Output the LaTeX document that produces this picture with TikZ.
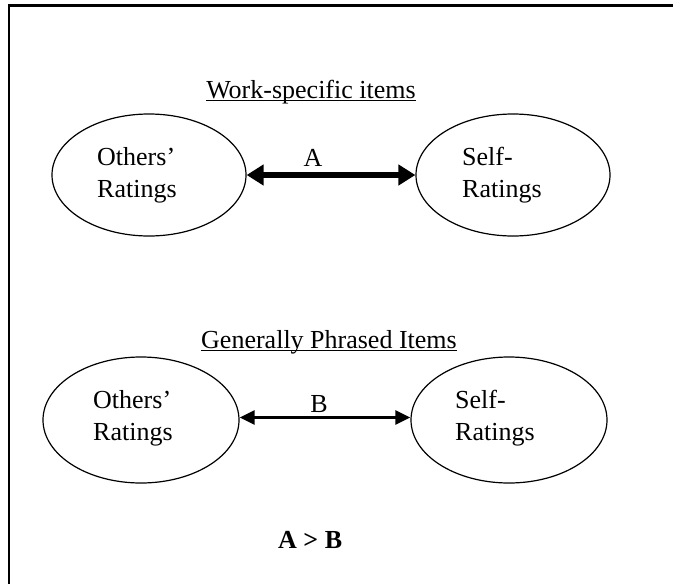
\documentclass[tikz,border=0pt]{standalone}
\usepackage{fontspec}
\setmainfont{Liberation Serif}
\usetikzlibrary{arrows.meta,shapes.geometric}

\tikzset{
  rating/.style={draw, ellipse, line width=1.2pt, minimum width=194pt, minimum height=122pt, inner sep=0pt},
  lbl/.style={inner sep=0pt, font=\fontsize{26}{32}\selectfont},
  blocktxt/.style={lbl, align=left, anchor=north west},
  heading/.style={lbl, anchor=base},
  strongarrow/.style={line width=6.5pt, {Triangle[length=17pt,width=20pt]}-{Triangle[length=17pt,width=20pt]}},
  weakarrow/.style={line width=2.8pt, {Triangle[length=15pt,width=14pt]}-{Triangle[length=15pt,width=14pt]}},
  underl/.style={line width=1.3pt}
}

\begin{document}
\begin{tikzpicture}[x=1pt, y=-1pt]
  \useasboundingbox (0,0) rectangle (673,584);

  % open frame: top and left edges only
  \draw[line width=2.2pt] (9,584) -- (9,5.5) -- (673,5.5);

  % work-specific items
  \node[heading] (h1) at (311,98) {Work-specific items};
  \draw[underl] ([yshift=-2.6pt]h1.base west) -- ([yshift=-2.6pt]h1.base east);

  \node[rating] (o1) at (149,175) {};
  \node[rating] (s1) at (513,175) {};
  \node[blocktxt] (o1t) at (97,147) {Others’\\Ratings};
  \node[blocktxt] (s1t) at (462,147) {Self-\\Ratings};
  \draw[strongarrow] (o1.east) -- (s1.west) node[midway, lbl, anchor=base, yshift=9pt, xshift=-18pt] (a) {A};

  % generally phrased items
  \node[heading] (h2) at (329,348) {Generally Phrased Items};
  \draw[underl] ([yshift=-2.6pt]h2.base west) -- ([yshift=-2.6pt]h2.base east);

  \node[rating, minimum width=196pt, minimum height=126pt] (o2) at (141,420) {};
  \node[rating, minimum width=196pt, minimum height=126pt] (s2) at (509,420) {};
  \node[blocktxt] (o2t) at (93,390) {Others’\\Ratings};
  \node[blocktxt] (s2t) at (455,390) {Self-\\Ratings};
  \draw[weakarrow] ([yshift=2.5pt]o2.east) -- ([yshift=2.5pt]s2.west) node[midway, lbl, anchor=base, yshift=5.5pt, xshift=-6pt] (b) {B};

  % comparison
  \node[lbl, anchor=base west, font=\fontsize{26}{32}\selectfont\bfseries] (cmp) at (278,548) {A > B};
\end{tikzpicture}
\end{document}
